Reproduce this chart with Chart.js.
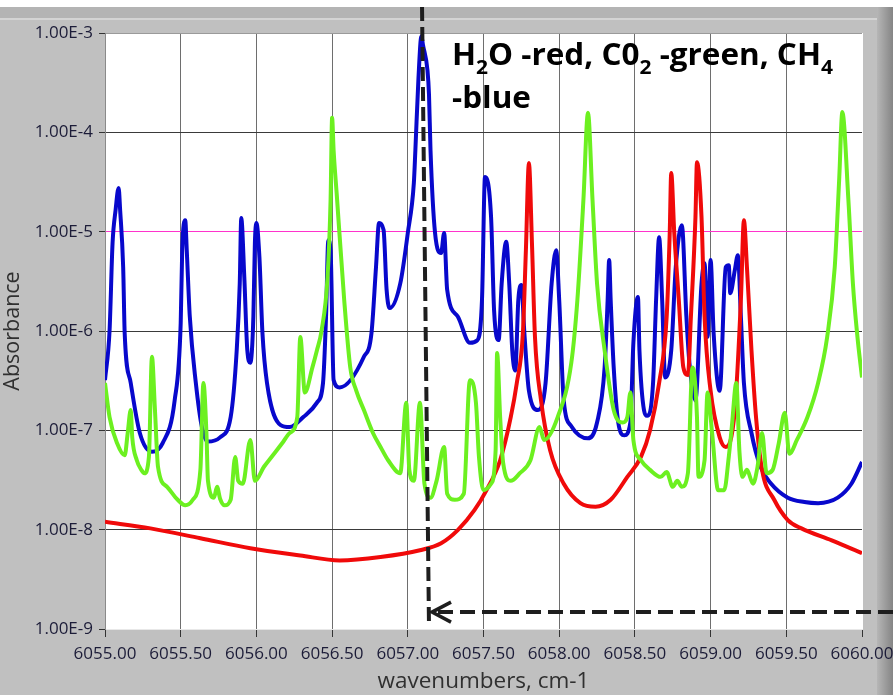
<!DOCTYPE html>
<html>
<head>
<meta charset="utf-8">
<script src="https://cdn.jsdelivr.net/npm/chart.js@4.4.1/dist/chart.umd.min.js"></script>
<style>
  body { margin: 0; background: #c0c0c0; }
  #wrap { width: 893px; height: 695px; }
</style>
</head>
<body>
<div id="wrap"><canvas id="spectrum" width="893" height="695"></canvas></div>
<script>
// Axis ticks
const xTicks = [6055.0, 6055.5, 6056.0, 6056.5, 6057.0, 6057.5, 6058.0, 6058.5, 6059.0, 6059.5, 6060.0];
const yTicks = [1e-9, 1e-8, 1e-7, 1e-6, 1e-5, 1e-4, 1e-3];
const refLevel = 1e-5; // magenta reference line

// CH4 (blue) - wavenumber / absorbance
const ch4Wn = [
  6055.00, 6055.03, 6055.05, 6055.07, 6055.09, 6055.10, 6055.12, 6055.13, 6055.17, 6055.23,
  6055.31, 6055.38, 6055.46, 6055.50, 6055.51, 6055.53, 6055.54, 6055.56, 6055.60, 6055.64,
  6055.68, 6055.76, 6055.83, 6055.87, 6055.89, 6055.90, 6055.92, 6055.94, 6055.96, 6055.98,
  6055.99, 6056.00, 6056.02, 6056.04, 6056.07, 6056.16, 6056.22, 6056.31, 6056.40, 6056.44,
  6056.46, 6056.475, 6056.49, 6056.51, 6056.55, 6056.71, 6056.76, 6056.79, 6056.81, 6056.84,
  6056.86, 6056.88, 6056.95, 6057.00, 6057.04, 6057.05, 6057.07, 6057.09, 6057.10, 6057.13,
  6057.14, 6057.15, 6057.18, 6057.22, 6057.24, 6057.26, 6057.33, 6057.41, 6057.46, 6057.49,
  6057.51, 6057.55, 6057.57, 6057.60, 6057.62, 6057.65, 6057.67, 6057.69, 6057.71, 6057.73,
  6057.75, 6057.77, 6057.80, 6057.86, 6057.91, 6057.95, 6057.98, 6058.00, 6058.03, 6058.08,
  6058.19, 6058.25, 6058.30, 6058.32, 6058.33, 6058.34, 6058.36, 6058.39, 6058.43, 6058.47,
  6058.49, 6058.52, 6058.53, 6058.56, 6058.58, 6058.62, 6058.64, 6058.66, 6058.68, 6058.70,
  6058.74, 6058.77, 6058.81, 6058.84, 6058.86, 6058.90, 6058.94, 6058.96, 6058.98, 6059.00,
  6059.02, 6059.06, 6059.10, 6059.12, 6059.13, 6059.16, 6059.18, 6059.20, 6059.22, 6059.27,
  6059.33, 6059.40, 6059.51, 6059.62, 6059.71, 6059.84, 6059.93, 6060.00
];
const ch4Abs = [
  3.2e-7, 1.0e-6, 7.7e-6, 1.65e-5, 2.75e-5, 1.65e-5, 4.4e-6, 9.5e-7, 3.0e-7, 9.4e-8,
  6.1e-8, 7.4e-8, 2.0e-7, 1.2e-6, 6.5e-6, 1.3e-5, 6.5e-6, 1.4e-6, 3.0e-7, 1.08e-7,
  7.7e-8, 8.5e-8, 1.36e-7, 6.4e-7, 3.0e-6, 1.37e-5, 3.5e-6, 6.4e-7, 4.8e-7, 1.4e-6,
  7.7e-6, 1.22e-5, 5.5e-6, 9.5e-7, 3.0e-7, 1.13e-7, 1.08e-7, 1.36e-7, 1.9e-7, 3.0e-7,
  1.4e-6, 8.2e-6, 6.5e-6, 3.2e-7, 2.7e-7, 5.5e-7, 9.5e-7, 4.4e-6, 1.22e-5, 1.04e-5,
  2.6e-6, 1.7e-6, 3.0e-6, 9.7e-6, 3.1e-5, 6.6e-5, 3.4e-4, 9.3e-4, 7.6e-4, 4.2e-4,
  2.4e-4, 6.6e-5, 9.7e-6, 6.1e-6, 9.7e-6, 2.6e-6, 1.4e-6, 7.6e-7, 8.1e-7, 2.05e-6,
  3.55e-5, 1.4e-5, 1.6e-6, 8.1e-7, 3.0e-6, 7.9e-6, 3.0e-6, 6.4e-7, 4.0e-7, 2.05e-6,
  2.9e-6, 9.5e-7, 2.5e-7, 1.6e-7, 3.0e-7, 3.0e-6, 6.5e-6, 2.05e-6, 2.0e-7, 1.1e-7,
  8.3e-8, 1.2e-7, 4.3e-7, 2.05e-6, 5.2e-6, 2.05e-6, 4.3e-7, 1.2e-7, 8.9e-8, 1.2e-7,
  7.6e-7, 2.2e-6, 6.4e-7, 1.6e-7, 1.4e-7, 3.0e-7, 2.05e-6, 8.8e-6, 2.05e-6, 3.4e-7,
  6.4e-7, 4.4e-6, 1.16e-5, 1.4e-6, 4.8e-7, 2.0e-7, 3.0e-6, 4.8e-6, 8.7e-7, 5.2e-6,
  9.5e-7, 2.5e-7, 4.4e-6, 4.6e-6, 2.4e-6, 4.1e-6, 5.8e-6, 1.4e-6, 3.0e-7, 9.4e-8,
  4.3e-8, 2.9e-8, 2.1e-8, 1.9e-8, 1.85e-8, 2.1e-8, 2.9e-8, 4.8e-8
];

// CO2 (green)
const co2Wn = [
  6055.00, 6055.03, 6055.08, 6055.13, 6055.15, 6055.17, 6055.18, 6055.21, 6055.24, 6055.26,
  6055.29, 6055.31, 6055.33, 6055.35, 6055.41, 6055.48, 6055.53, 6055.58, 6055.63, 6055.65,
  6055.67, 6055.68, 6055.72, 6055.74, 6055.76, 6055.79, 6055.83, 6055.86, 6055.88, 6055.91,
  6055.96, 6055.99, 6056.05, 6056.10, 6056.17, 6056.22, 6056.27, 6056.29, 6056.32, 6056.37,
  6056.40, 6056.43, 6056.47, 6056.49, 6056.50, 6056.51, 6056.53, 6056.58, 6056.62, 6056.66,
  6056.71, 6056.77, 6056.82, 6056.87, 6056.95, 6056.99, 6057.01, 6057.04, 6057.08, 6057.11,
  6057.15, 6057.19, 6057.24, 6057.26, 6057.31, 6057.37, 6057.41, 6057.45, 6057.47, 6057.50,
  6057.55, 6057.58, 6057.59, 6057.61, 6057.63, 6057.68, 6057.74, 6057.81, 6057.87, 6057.90,
  6057.99, 6058.08, 6058.12, 6058.16, 6058.19, 6058.22, 6058.25, 6058.30, 6058.36, 6058.42,
  6058.45, 6058.47, 6058.49, 6058.54, 6058.60, 6058.67, 6058.71, 6058.75, 6058.78, 6058.81,
  6058.85, 6058.88, 6058.91, 6058.92, 6058.96, 6058.98, 6059.01, 6059.05, 6059.09, 6059.12,
  6059.14, 6059.17, 6059.19, 6059.21, 6059.24, 6059.28, 6059.31, 6059.34, 6059.37, 6059.41,
  6059.45, 6059.49, 6059.52, 6059.57, 6059.64, 6059.71, 6059.77, 6059.82, 6059.85, 6059.87,
  6059.91, 6059.94, 6059.97, 6060.00
];
const co2Abs = [
  3.0e-7, 1.36e-7, 7.4e-8, 5.6e-8, 9.4e-8, 1.6e-7, 8.5e-8, 5.0e-8, 4.0e-8, 3.7e-8,
  5.4e-8, 5.5e-7, 1.6e-7, 4.3e-8, 2.7e-8, 2.0e-8, 1.76e-8, 2.0e-8, 4.0e-8, 3.0e-7,
  9.4e-8, 3.1e-8, 2.1e-8, 2.7e-8, 2.05e-8, 1.76e-8, 2.0e-8, 5.4e-8, 3.1e-8, 2.9e-8,
  8.0e-8, 3.1e-8, 4.3e-8, 5.4e-8, 7.4e-8, 9.4e-8, 1.36e-7, 8.7e-7, 2.4e-7, 4.3e-7,
  6.4e-7, 1.0e-6, 3.5e-6, 2.1e-5, 1.4e-4, 6.6e-5, 2.45e-5, 2.05e-6, 4.3e-7, 2.5e-7,
  1.6e-7, 9.4e-8, 6.8e-8, 5.0e-8, 3.7e-8, 1.9e-7, 4.0e-8, 3.1e-8, 1.9e-7, 2.9e-8,
  2.1e-8, 3.1e-8, 6.8e-8, 2.3e-8, 2.0e-8, 2.3e-8, 3.2e-7, 1.9e-7, 5.4e-8, 2.5e-8,
  2.9e-8, 6.3e-8, 6.0e-7, 1.36e-7, 4.7e-8, 3.1e-8, 3.7e-8, 5.0e-8, 1.08e-7, 8.0e-8,
  1.36e-7, 4.8e-7, 2.05e-6, 2.1e-5, 1.57e-4, 2.1e-5, 3.0e-6, 6.4e-7, 1.6e-7, 1.2e-7,
  1.36e-7, 2.4e-7, 8.0e-8, 5.0e-8, 4.0e-8, 3.4e-8, 3.8e-8, 2.7e-8, 3.1e-8, 2.7e-8,
  3.7e-8, 4.3e-7, 1.36e-7, 3.4e-8, 5.0e-8, 2.4e-7, 9.4e-8, 2.5e-8, 2.5e-8, 5.4e-8,
  1.08e-7, 3.0e-7, 6.3e-8, 3.4e-8, 4.0e-8, 2.9e-8, 4.3e-8, 9.4e-8, 3.7e-8, 4.0e-8,
  7.4e-8, 1.5e-7, 5.8e-8, 8.0e-8, 1.36e-7, 3.0e-7, 8.7e-7, 4.4e-6, 3.55e-5, 1.6e-4,
  2.1e-5, 3.0e-6, 8.7e-7, 3.4e-7
];

// H2O (red)
const h2oWn = [
  6055.00, 6055.30, 6055.63, 6055.96, 6056.29, 6056.55, 6056.82, 6057.08, 6057.22, 6057.33,
  6057.44, 6057.52, 6057.61, 6057.68, 6057.72, 6057.76, 6057.78, 6057.80, 6057.82, 6057.84,
  6057.88, 6057.94, 6058.03, 6058.14, 6058.24, 6058.34, 6058.45, 6058.54, 6058.60, 6058.66,
  6058.71, 6058.73, 6058.74, 6058.76, 6058.79, 6058.82, 6058.85, 6058.87, 6058.90, 6058.91,
  6058.94, 6058.96, 6059.00, 6059.06, 6059.10, 6059.16, 6059.20, 6059.22, 6059.24, 6059.27,
  6059.30, 6059.34, 6059.42, 6059.51, 6059.60, 6059.80, 6060.00
];
const h2oAbs = [
  1.2e-8, 1.03e-8, 8.2e-9, 6.5e-9, 5.5e-9, 4.9e-9, 5.3e-9, 6.2e-9, 7.3e-9, 9.9e-9,
  1.57e-8, 2.5e-8, 5.0e-8, 1.36e-7, 3.0e-7, 9.5e-7, 6.5e-6, 4.9e-5, 7.7e-6, 8.7e-7,
  2.0e-7, 6.3e-8, 2.9e-8, 1.85e-8, 1.7e-8, 2.0e-8, 3.4e-8, 5.4e-8, 1.0e-7, 3.0e-7,
  1.4e-6, 9.7e-6, 3.9e-5, 9.7e-6, 2.05e-6, 4.3e-7, 3.6e-7, 1.4e-6, 1.4e-5, 5.0e-5,
  1.4e-5, 1.4e-6, 2.5e-7, 8.5e-8, 6.8e-8, 1.6e-7, 2.05e-6, 1.3e-5, 4.4e-6, 6.4e-7,
  1.36e-7, 4.0e-8, 2.0e-8, 1.25e-8, 1.03e-8, 7.8e-9, 5.8e-9
];

// Hand-drawn marker on the picture (dashed line + arrow), in data units
const markerTopWn = 6057.094;
const markerBottomWn = 6057.14;
const arrowTipWn = 6057.16;
const arrowAbs = 1.48e-9;

const noteLine1 = [['H', 0], ['2', 1], ['O -red, C0', 0], ['2', 1], [' -green, CH', 0], ['4', 1]];
const noteLine2 = '-blue';

const toPoints = (xs, ys) => xs.map((x, i) => ({ x: x, y: ys[i] }));

// Grey LabVIEW style frame and white plot area
const framePlugin = {
    id: 'frame',
    beforeDraw(chart) {
        const { ctx, chartArea: a, width, height } = chart;
        ctx.save();
        ctx.fillStyle = '#c0c0c0';
        ctx.fillRect(0, 0, width, height);
        ctx.fillStyle = '#ffffff';
        ctx.fillRect(0, 0, width, 7);
        ctx.fillStyle = '#b4b4b4';
        ctx.fillRect(0, 7, width, 11);
        ctx.fillStyle = '#d4d4d4';
        ctx.fillRect(0, 18, width, 2);
        const g = ctx.createLinearGradient(877, 0, width, 0);
        g.addColorStop(0, '#b6b6b6');
        g.addColorStop(1, '#858585');
        ctx.fillStyle = g;
        ctx.fillRect(877, 7, width - 877, height - 7);
        ctx.fillStyle = '#ffffff';
        ctx.fillRect(a.left, a.top, a.right - a.left + 1, a.bottom - a.top);
        ctx.restore();
    }
};

// Dashed marker, arrow and the legend note
const notePlugin = {
    id: 'note',
    afterDraw(chart) {
        const { ctx, chartArea: a, width } = chart;
        const xs = chart.scales.x, ys = chart.scales.y;
        ctx.save();
        ctx.strokeStyle = '#1e1e1e';
        ctx.lineWidth = 4;

        ctx.setLineDash([14, 6]);
        ctx.beginPath();
        ctx.moveTo(xs.getPixelForValue(markerTopWn), 7);
        ctx.lineTo(xs.getPixelForValue(markerBottomWn), a.bottom - 2);
        ctx.stroke();

        const ay = ys.getPixelForValue(arrowAbs);
        const ax = xs.getPixelForValue(arrowTipWn);
        ctx.setLineDash([15, 7]);
        ctx.beginPath();
        ctx.moveTo(width, ay);
        ctx.lineTo(ax + 2, ay);
        ctx.stroke();
        ctx.setLineDash([]);
        ctx.lineWidth = 3.5;
        ctx.beginPath();
        ctx.moveTo(ax + 19, ay - 10);
        ctx.lineTo(ax, ay);
        ctx.lineTo(ax + 19, ay + 10);
        ctx.stroke();

        // note text, squeezed to the width of the original lettering
        const big = 'bold 30px "Open Sans"';
        const small = 'bold 20px "Open Sans"';
        let w = 0;
        noteLine1.forEach(([t, sub]) => { ctx.font = sub ? small : big; w += ctx.measureText(t).width; });
        const sx = 381 / w;
        ctx.fillStyle = '#000000';
        ctx.textBaseline = 'alphabetic';
        ctx.translate(452, 65);
        ctx.scale(sx, 1);
        let cx = 0;
        noteLine1.forEach(([t, sub]) => {
            ctx.font = sub ? small : big;
            ctx.fillText(t, cx, sub ? 9 : 0);
            cx += ctx.measureText(t).width;
        });
        ctx.font = big;
        ctx.fillText(noteLine2, 0, 43);
        ctx.restore();
    }
};

const lineStyle = { borderWidth: 4, cubicInterpolationMode: 'monotone', borderJoinStyle: 'round' };

const ctx = document.getElementById('spectrum').getContext('2d');
new Chart(ctx, {
    type: 'line',
    data: {
        datasets: [
            { label: 'CO2', data: toPoints(co2Wn, co2Abs), borderColor: '#6cf020', ...lineStyle },
            { label: 'H2O', data: toPoints(h2oWn, h2oAbs), borderColor: '#f00a0a', ...lineStyle },
            { label: 'CH4', data: toPoints(ch4Wn, ch4Abs), borderColor: '#0808cc', ...lineStyle }
        ]
    },
    options: {
        responsive: false,
        animation: false,
        devicePixelRatio: 1,
        layout: { padding: { top: 33, right: 31, left: 0, bottom: 0 } },
        elements: { point: { radius: 0 } },
        plugins: { legend: { display: false }, tooltip: { enabled: false } },
        scales: {
            x: {
                type: 'linear',
                min: 6055,
                max: 6060,
                afterBuildTicks: s => { s.ticks = xTicks.map(v => ({ value: v })); },
                afterFit: s => { s.height = 66; s.paddingLeft = 0; s.paddingRight = 0; },
                ticks: {
                    callback: v => v.toFixed(2),
                    color: '#1c1c38',
                    font: { family: '"Open Sans"', size: 17 },
                    padding: 7,
                    maxRotation: 0
                },
                grid: {
                    color: c => (c.tick && c.tick.value === 6060 ? 'rgba(0,0,0,0)' : '#6e6e6e'),
                    tickColor: '#333333',
                    tickLength: 8
                },
                border: { color: '#e8e8e8', width: 1 },
                title: {
                    display: true,
                    text: 'wavenumbers, cm-1',
                    color: '#303030',
                    font: { family: '"Open Sans"', size: 22.5 },
                    padding: { top: 0, bottom: 0 }
                }
            },
            y: {
                type: 'logarithmic',
                min: 1e-9,
                max: 1e-3,
                afterBuildTicks: s => { s.ticks = yTicks.map(v => ({ value: v })); },
                afterFit: s => { s.width = 105; s.paddingTop = 0; s.paddingBottom = 0; },
                ticks: {
                    callback: v => '1.00E' + Math.round(Math.log10(v)),
                    color: '#1c1c38',
                    font: { family: '"Open Sans"', size: 17 },
                    padding: 6
                },
                grid: {
                    color: c => {
                        if (!c.tick) return '#3a3a3a';
                        if (Math.abs(c.tick.value / refLevel - 1) < 1e-6) return '#ff33cc';
                        if (c.tick.value === 1e-3) return '#9a9a9a';
                        return '#3a3a3a';
                    },
                    tickColor: '#333333',
                    tickLength: 6
                },
                border: { color: '#8a8a8a', width: 1 },
                title: {
                    display: true,
                    text: 'Absorbance',
                    color: '#303030',
                    font: { family: '"Open Sans"', size: 21.5 },
                    padding: { top: 0, bottom: 0 }
                }
            }
        }
    },
    plugins: [framePlugin, notePlugin]
});
</script>
</body>
</html>
